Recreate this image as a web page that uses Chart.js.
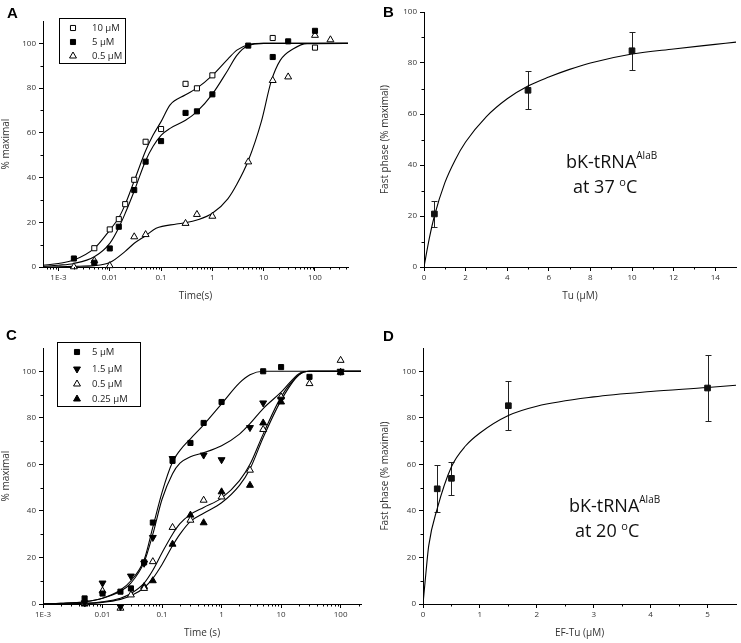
<!DOCTYPE html>
<html>
<head>
<meta charset="utf-8">
<script src="https://cdn.jsdelivr.net/npm/chart.js@4.4.0/dist/chart.umd.min.js"></script>
<style>
body { margin: 0; background: #fff; width: 741px; height: 643px; position: relative; overflow: hidden; font-family: "Open Sans", sans-serif; }
canvas { position: absolute; }
.lbl { position: absolute; font: bold 15px "Liberation Sans", Arial, sans-serif; color: #000; }
.note { position: absolute; font-size: 18px; line-height: 20px; color: #111; white-space: nowrap; }
.note sup { font-size: 10px; vertical-align: 0; position: relative; top: -9px; }
.deg { font-size: 11px; position: relative; top: -7px; }
</style>
</head>
<body>
<canvas id="chartA" width="370" height="305" style="left:0;top:0"></canvas>
<canvas id="chartB" width="371" height="305" style="left:370px;top:0"></canvas>
<canvas id="chartC" width="370" height="338" style="left:0;top:305px"></canvas>
<canvas id="chartD" width="371" height="338" style="left:370px;top:305px"></canvas>

<div class="lbl" style="left:7px;top:4px">A</div>
<div class="lbl" style="left:383px;top:3px">B</div>
<div class="lbl" style="left:6px;top:326px">C</div>
<div class="lbl" style="left:383px;top:327px">D</div>

<div class="note" style="left:566px;top:151px">bK-tRNA<sup>AlaB</sup></div>
<div class="note" style="left:573px;top:176px">at 37 <span class="deg">o</span>C</div>
<div class="note" style="left:569px;top:495px">bK-tRNA<sup>AlaB</sup></div>
<div class="note" style="left:575px;top:520px">at 20 <span class="deg">o</span>C</div>

<script>
// ---- panel A : time courses (log time) ----
var a10x = [0.005, 0.01, 0.015, 0.02, 0.03, 0.05, 0.1, 0.3, 0.5, 1, 15, 100];
var a10y = [8.4, 16.8, 21.4, 28.1, 39, 56, 61.7, 81.9, 79.9, 85.7, 102.4, 98.1];
var a5x = [0.002, 0.005, 0.01, 0.015, 0.03, 0.05, 0.1, 0.3, 0.5, 1, 5, 15, 30, 100];
var a5y = [3.8, 1.9, 8.3, 18, 34.4, 47.1, 56.3, 68.9, 69.6, 77.2, 99, 93.9, 100.9, 105.6];
var a05x = [0.002, 0.005, 0.01, 0.03, 0.05, 0.3, 0.5, 1, 5, 15, 30, 100, 200];
var a05y = [0.1, 2.8, 0.6, 13.5, 14.5, 19.5, 23.5, 22.7, 47, 83.4, 85, 103.6, 101.6];

// fitted curves
var fitA10x = [0.0005, 0.001, 0.002, 0.005, 0.01, 0.015, 0.02, 0.03, 0.05, 0.07, 0.1, 0.15, 0.3, 0.5, 1, 2, 3, 5, 10, 100, 440];
var fitA10y = [0.8, 1.6, 3.1, 8.3, 16.5, 22, 28, 38.5, 52, 59, 65, 72.5, 77, 80, 85.7, 93, 97, 99.4, 100, 100, 100];
var fitA5x = [0.0005, 0.001, 0.002, 0.005, 0.01, 0.015, 0.02, 0.03, 0.05, 0.07, 0.1, 0.15, 0.3, 0.5, 1, 2, 3, 5, 10, 100, 440];
var fitA5y = [0.3, 0.8, 1.6, 4.6, 10.6, 17.6, 24, 34, 47.5, 54, 58.9, 62, 65.6, 69.5, 77.3, 88, 94.6, 99, 100, 100, 100];
var fitA05x = [0.0005, 0.001, 0.002, 0.005, 0.01, 0.02, 0.03, 0.05, 0.08, 0.2, 0.3, 0.5, 1, 2, 3, 5, 9, 14, 21, 38, 70, 440];
var fitA05y = [0, 0.1, 0.3, 0.6, 2, 7, 10.6, 14, 17.3, 19.2, 19.8, 21, 24, 30.5, 37, 47.5, 65, 83, 92.4, 97.6, 99.9, 100];

// ---- panel B : fast phase vs Tu, 37 C ----
var bX = [0.5, 5, 10];
var bY = [20.8, 69.3, 84.8];
var bErr = [5.2, 7.5, 7.5];
var fitBx = [0, 0.25, 0.5, 1, 1.5, 2, 3, 4, 5, 6, 7, 8, 10, 12, 14, 15];
var fitBy = [0, 11, 20, 33, 42, 49, 59, 66, 71, 74.5, 77.5, 80, 83.5, 85.5, 87.3, 88.2];

// ---- panel C : time courses at 20 C ----
var c5x = [0.005, 0.01, 0.02, 0.03, 0.05, 0.07, 0.15, 0.3, 0.5, 1, 5, 10, 30, 100];
var c5y = [2.4, 4.5, 5.3, 6.7, 17.9, 35, 61.5, 69.2, 77.8, 86.8, 100, 101.8, 97.6, 99.6];
var c15x = [0.005, 0.01, 0.02, 0.03, 0.05, 0.07, 0.15, 0.5, 1, 3, 5, 10, 100];
var c15y = [0.5, 9, -1.1, 12, 17.5, 28.6, 62.5, 64, 62, 75.8, 86.4, 88, 100];
var c05x = [0.005, 0.01, 0.02, 0.03, 0.05, 0.07, 0.15, 0.3, 0.5, 1, 3, 5, 10, 30, 100];
var c05y = [0.5, 5.6, -1.8, 3.9, 6.7, 18.2, 32.9, 36, 44.6, 46, 57.5, 75, 89, 94.7, 104.7];
var c025x = [0.005, 0.02, 0.05, 0.07, 0.15, 0.3, 0.5, 1, 3, 5, 10, 100];
var c025y = [0, -3.5, 7.5, 10, 25.7, 38.2, 34.9, 48.2, 51, 77.8, 86.8, 99.6];

var fitCx = [0.001, 0.002, 0.005, 0.01, 0.02, 0.03, 0.05, 0.07, 0.1, 0.15, 0.2, 0.3, 0.5, 1, 2, 3, 5, 10, 20, 30, 220];
var fitC5y = [0, 0.3, 1, 2.5, 6, 10, 19, 33, 48, 61, 66, 71, 77, 86, 95, 98.5, 100, 100, 100, 100, 100];
var fitC15y = [0, 0.3, 1, 2.5, 5.5, 9, 18, 30, 45, 56, 60.5, 63.3, 65, 68, 73, 77.5, 84, 91, 99, 100, 100];
var fitC05y = [0, 0.1, 0.3, 1, 2.5, 4.5, 9, 14.5, 22, 30, 34.5, 38.5, 41.5, 45.5, 53, 60, 73, 89, 98.5, 100, 100];
var fitC025y = [0, 0.1, 0.2, 0.7, 2, 3.5, 7, 11, 17, 25, 30, 35.5, 39, 43.5, 51, 58, 71.5, 87.5, 98.5, 100, 100];

// ---- panel D : fast phase vs EF-Tu, 20 C ----
var dX = [0.25, 0.5, 1.5, 5];
var dY = [49.5, 54, 85.2, 92.8];
var dErr = [10.1, 7.2, 10.5, 14.3];
var fitDx = [0, 0.05, 0.1, 0.25, 0.5, 0.75, 1, 1.5, 2, 3, 4, 5, 5.5];
var fitDy = [0, 13, 25, 41, 59, 68, 73.5, 81, 85, 89, 91.3, 93, 94];

// ticks
var logTicks = [0.001, 0.01, 0.1, 1, 10, 100];
var logLabels = ['1E-3', '0.01', '0.1', '1', '10', '100'];
var pctTicks = [0, 20, 40, 60, 80, 100];
var pctMinor = [10, 30, 50, 70, 90];
var bTicks = [0, 2, 4, 6, 8, 10, 12, 14];
var bMinor = [1, 3, 5, 7, 9, 11, 13];
var dTicks = [0, 1, 2, 3, 4, 5];
var dMinor = [0.5, 1.5, 2.5, 3.5, 4.5];

function logMinor(min, max) {
    var out = [];
    for (var d = 0.0001; d < max; d *= 10) {
        for (var k = 2; k <= 9; k++) {
            var v = d * k;
            if (v > min && v < max) out.push(v);
        }
    }
    return out;
}

// marker styles
var sqOpen = {pointStyle: 'rect', pointRadius: 3.6, pointBackgroundColor: '#fff', pointBorderColor: '#000', pointBorderWidth: 1};
var sqFill = {pointStyle: 'rect', pointRadius: 3.6, pointBackgroundColor: '#000', pointBorderColor: '#000', pointBorderWidth: 1};
var sqBig = {pointStyle: 'rect', pointRadius: 4, pointBackgroundColor: '#111', pointBorderColor: '#111', pointBorderWidth: 1};
var triOpen = {pointStyle: 'triangle', pointRadius: 4, pointBackgroundColor: '#fff', pointBorderColor: '#000', pointBorderWidth: 1};
var triFill = {pointStyle: 'triangle', pointRadius: 4, pointBackgroundColor: '#000', pointBorderColor: '#000', pointBorderWidth: 1};
var triDown = {pointStyle: 'triangle', pointRotation: 180, pointRadius: 4, pointBackgroundColor: '#000', pointBorderColor: '#000', pointBorderWidth: 1};

function pts(xs, ys) {
    return xs.map(function (x, i) { return {x: x, y: ys[i]}; });
}
function markers(label, xs, ys, style, extra) {
    return Object.assign({label: label, data: pts(xs, ys), showLine: false, order: 1, clip: false}, style, extra || {});
}
function curve(xs, ys) {
    return {data: pts(xs, ys), showLine: true, borderColor: '#000', borderWidth: 1.1, pointRadius: 0,
        cubicInterpolationMode: 'monotone', order: 2, fill: false};
}

// short minor tick marks on both axes
var minorTicks = {
    id: 'minorTicks',
    afterDraw: function (chart, args, opts) {
        var ctx = chart.ctx, sx = chart.scales.x, sy = chart.scales.y;
        ctx.save();
        ctx.strokeStyle = '#000';
        ctx.lineWidth = 1;
        ctx.beginPath();
        (opts.x || []).forEach(function (v) {
            var px = Math.round(sx.getPixelForValue(v)) + 0.5;
            ctx.moveTo(px, sx.top);
            ctx.lineTo(px, sx.top + 2.5);
        });
        (opts.y || []).forEach(function (v) {
            var py = Math.round(sy.getPixelForValue(v)) + 0.5;
            ctx.moveTo(sy.right, py);
            ctx.lineTo(sy.right - 2.5, py);
        });
        ctx.stroke();
        ctx.restore();
    }
};

// vertical error bars with caps
var errorBars = {
    id: 'errorBars',
    beforeDatasetsDraw: function (chart) {
        var ctx = chart.ctx, sy = chart.scales.y;
        ctx.save();
        ctx.strokeStyle = '#222';
        ctx.lineWidth = 1;
        chart.data.datasets.forEach(function (ds, i) {
            if (!ds.errors) return;
            var meta = chart.getDatasetMeta(i);
            ds.data.forEach(function (p, j) {
                var x = Math.round(meta.data[j].x) + 0.5;
                var top = Math.round(sy.getPixelForValue(p.y + ds.errors[j])) + 0.5;
                var bot = Math.round(sy.getPixelForValue(p.y - ds.errors[j])) + 0.5;
                ctx.beginPath();
                ctx.moveTo(x, top); ctx.lineTo(x, bot);
                ctx.moveTo(x - 3, top); ctx.lineTo(x + 3, top);
                ctx.moveTo(x - 3, bot); ctx.lineTo(x + 3, bot);
                ctx.stroke();
            });
        });
        ctx.restore();
    }
};

// boxed legend inside the plot
var boxLegend = {
    id: 'boxLegend',
    afterDraw: function (chart, args, opts) {
        if (!opts || !opts.box) return;
        var ctx = chart.ctx, b = opts.box;
        ctx.save();
        ctx.fillStyle = '#fff';
        ctx.fillRect(b[0], b[1], b[2], b[3]);
        ctx.strokeStyle = '#000';
        ctx.lineWidth = 1;
        ctx.strokeRect(b[0] + 0.5, b[1] + 0.5, b[2], b[3]);
        ctx.font = '9.5px "Open Sans"';
        ctx.textBaseline = 'middle';
        var k = 0;
        chart.data.datasets.forEach(function (ds) {
            if (!ds.label) return;
            var y = opts.rows[k++];
            ctx.fillStyle = ds.pointBackgroundColor;
            ctx.strokeStyle = ds.pointBorderColor;
            Chart.helpers.drawPoint(ctx, {pointStyle: ds.pointStyle, rotation: ds.pointRotation || 0,
                radius: ds.pointRadius, borderWidth: 1}, opts.mx, y);
            ctx.fillStyle = '#222';
            ctx.fillText(ds.label, opts.tx, y);
        });
        ctx.restore();
    }
};

function panel(id, o) {
    var tickFont = {family: 'Open Sans', size: 8};
    var titleFont = {family: 'Open Sans', size: 10};
    return new Chart(document.getElementById(id), {
        type: 'scatter',
        data: {datasets: o.datasets},
        options: {
            responsive: false,
            animation: false,
            events: [],
            layout: {padding: o.pad},
            plugins: {
                legend: {display: false},
                tooltip: {enabled: false},
                minorTicks: {x: o.xMinor, y: o.yMinor},
                boxLegend: o.legend || false
            },
            scales: {
                x: {
                    type: o.xType, min: o.xMin, max: o.xMax,
                    grid: {drawOnChartArea: false, tickLength: 4, tickColor: '#000'},
                    border: {color: '#000', width: 1},
                    ticks: {font: tickFont, color: '#333', padding: 2, maxRotation: 0, autoSkip: false,
                        callback: function (v, i) { return o.xLabels[i]; }},
                    afterBuildTicks: function (s) { s.ticks = o.xTicks.map(function (v) { return {value: v}; }); },
                    afterFit: function (s) { s.height = o.xHeight; },
                    title: {display: true, text: o.xTitle, font: titleFont, color: '#333', padding: {top: 0, bottom: o.xTitlePad}}
                },
                y: {
                    type: 'linear', min: 0, max: o.yMax,
                    grid: {drawOnChartArea: false, tickLength: 4, tickColor: '#000'},
                    border: {color: '#000', width: 1},
                    ticks: {font: tickFont, color: '#333', padding: 3, autoSkip: false},
                    afterBuildTicks: function (s) { s.ticks = pctTicks.map(function (v) { return {value: v}; }); },
                    afterFit: function (s) { s.width = o.yWidth; },
                    title: {display: true, text: o.yTitle, font: titleFont, color: '#333', padding: {top: o.yTitlePad, bottom: 0}}
                }
            }
        },
        plugins: [minorTicks, errorBars, boxLegend]
    });
}

panel('chartA', {
    xType: 'logarithmic', xMin: 0.0005, xMax: 440, xTicks: logTicks, xLabels: logLabels,
    xMinor: logMinor(0.0005, 440), yMinor: pctMinor, yMax: 110,
    xTitle: 'Time(s)', yTitle: '% maximal', yWidth: 43, xHeight: 38, xTitlePad: 3, yTitlePad: 0,
    pad: {left: 0, right: 22, top: 21, bottom: 0},
    legend: {box: [59, 18, 66, 45], rows: [28, 42, 56], mx: 73, tx: 92},
    datasets: [
        markers('10 µM', a10x, a10y, sqOpen),
        markers('5 µM', a5x, a5y, sqFill),
        markers('0.5 µM', a05x, a05y, triOpen),
        curve(fitA10x, fitA10y),
        curve(fitA5x, fitA5y),
        curve(fitA05x, fitA05y)
    ]
});

panel('chartB', {
    xType: 'linear', xMin: 0, xMax: 15, xTicks: bTicks, xLabels: bTicks.map(String),
    xMinor: bMinor, yMinor: pctMinor, yMax: 100,
    xTitle: 'Tu (µM)', yTitle: 'Fast phase (% maximal)', yWidth: 54, xHeight: 38, xTitlePad: 3, yTitlePad: 9,
    pad: {left: 0, right: 2, top: 12, bottom: 0},
    datasets: [
        markers(null, bX, bY, sqBig, {errors: bErr}),
        curve(fitBx, fitBy)
    ]
});

panel('chartC', {
    xType: 'logarithmic', xMin: 0.001, xMax: 220, xTicks: logTicks, xLabels: logLabels,
    xMinor: logMinor(0.001, 220), yMinor: pctMinor, yMax: 110,
    xTitle: 'Time (s)', yTitle: '% maximal', yWidth: 43, xHeight: 39, xTitlePad: 4, yTitlePad: 0,
    pad: {left: 0, right: 9, top: 43, bottom: 0},
    legend: {box: [57, 37, 83, 64], rows: [47, 64, 79, 94], mx: 77, tx: 92},
    datasets: [
        markers('5 µM', c5x, c5y, sqFill),
        markers('1.5 µM', c15x, c15y, triDown),
        markers('0.5 µM', c05x, c05y, triOpen),
        markers('0.25 µM', c025x, c025y, triFill),
        curve(fitCx, fitC5y),
        curve(fitCx, fitC15y),
        curve(fitCx, fitC05y),
        curve(fitCx, fitC025y)
    ]
});

panel('chartD', {
    xType: 'linear', xMin: 0, xMax: 5.5, xTicks: dTicks, xLabels: dTicks.map(String),
    xMinor: dMinor, yMinor: pctMinor, yMax: 110,
    xTitle: 'EF-Tu (µM)', yTitle: 'Fast phase (% maximal)', yWidth: 53, xHeight: 39, xTitlePad: 4, yTitlePad: 9,
    pad: {left: 0, right: 3, top: 43, bottom: 0},
    datasets: [
        markers(null, dX, dY, sqBig, {errors: dErr}),
        curve(fitDx, fitDy)
    ]
});
</script>
</body>
</html>
